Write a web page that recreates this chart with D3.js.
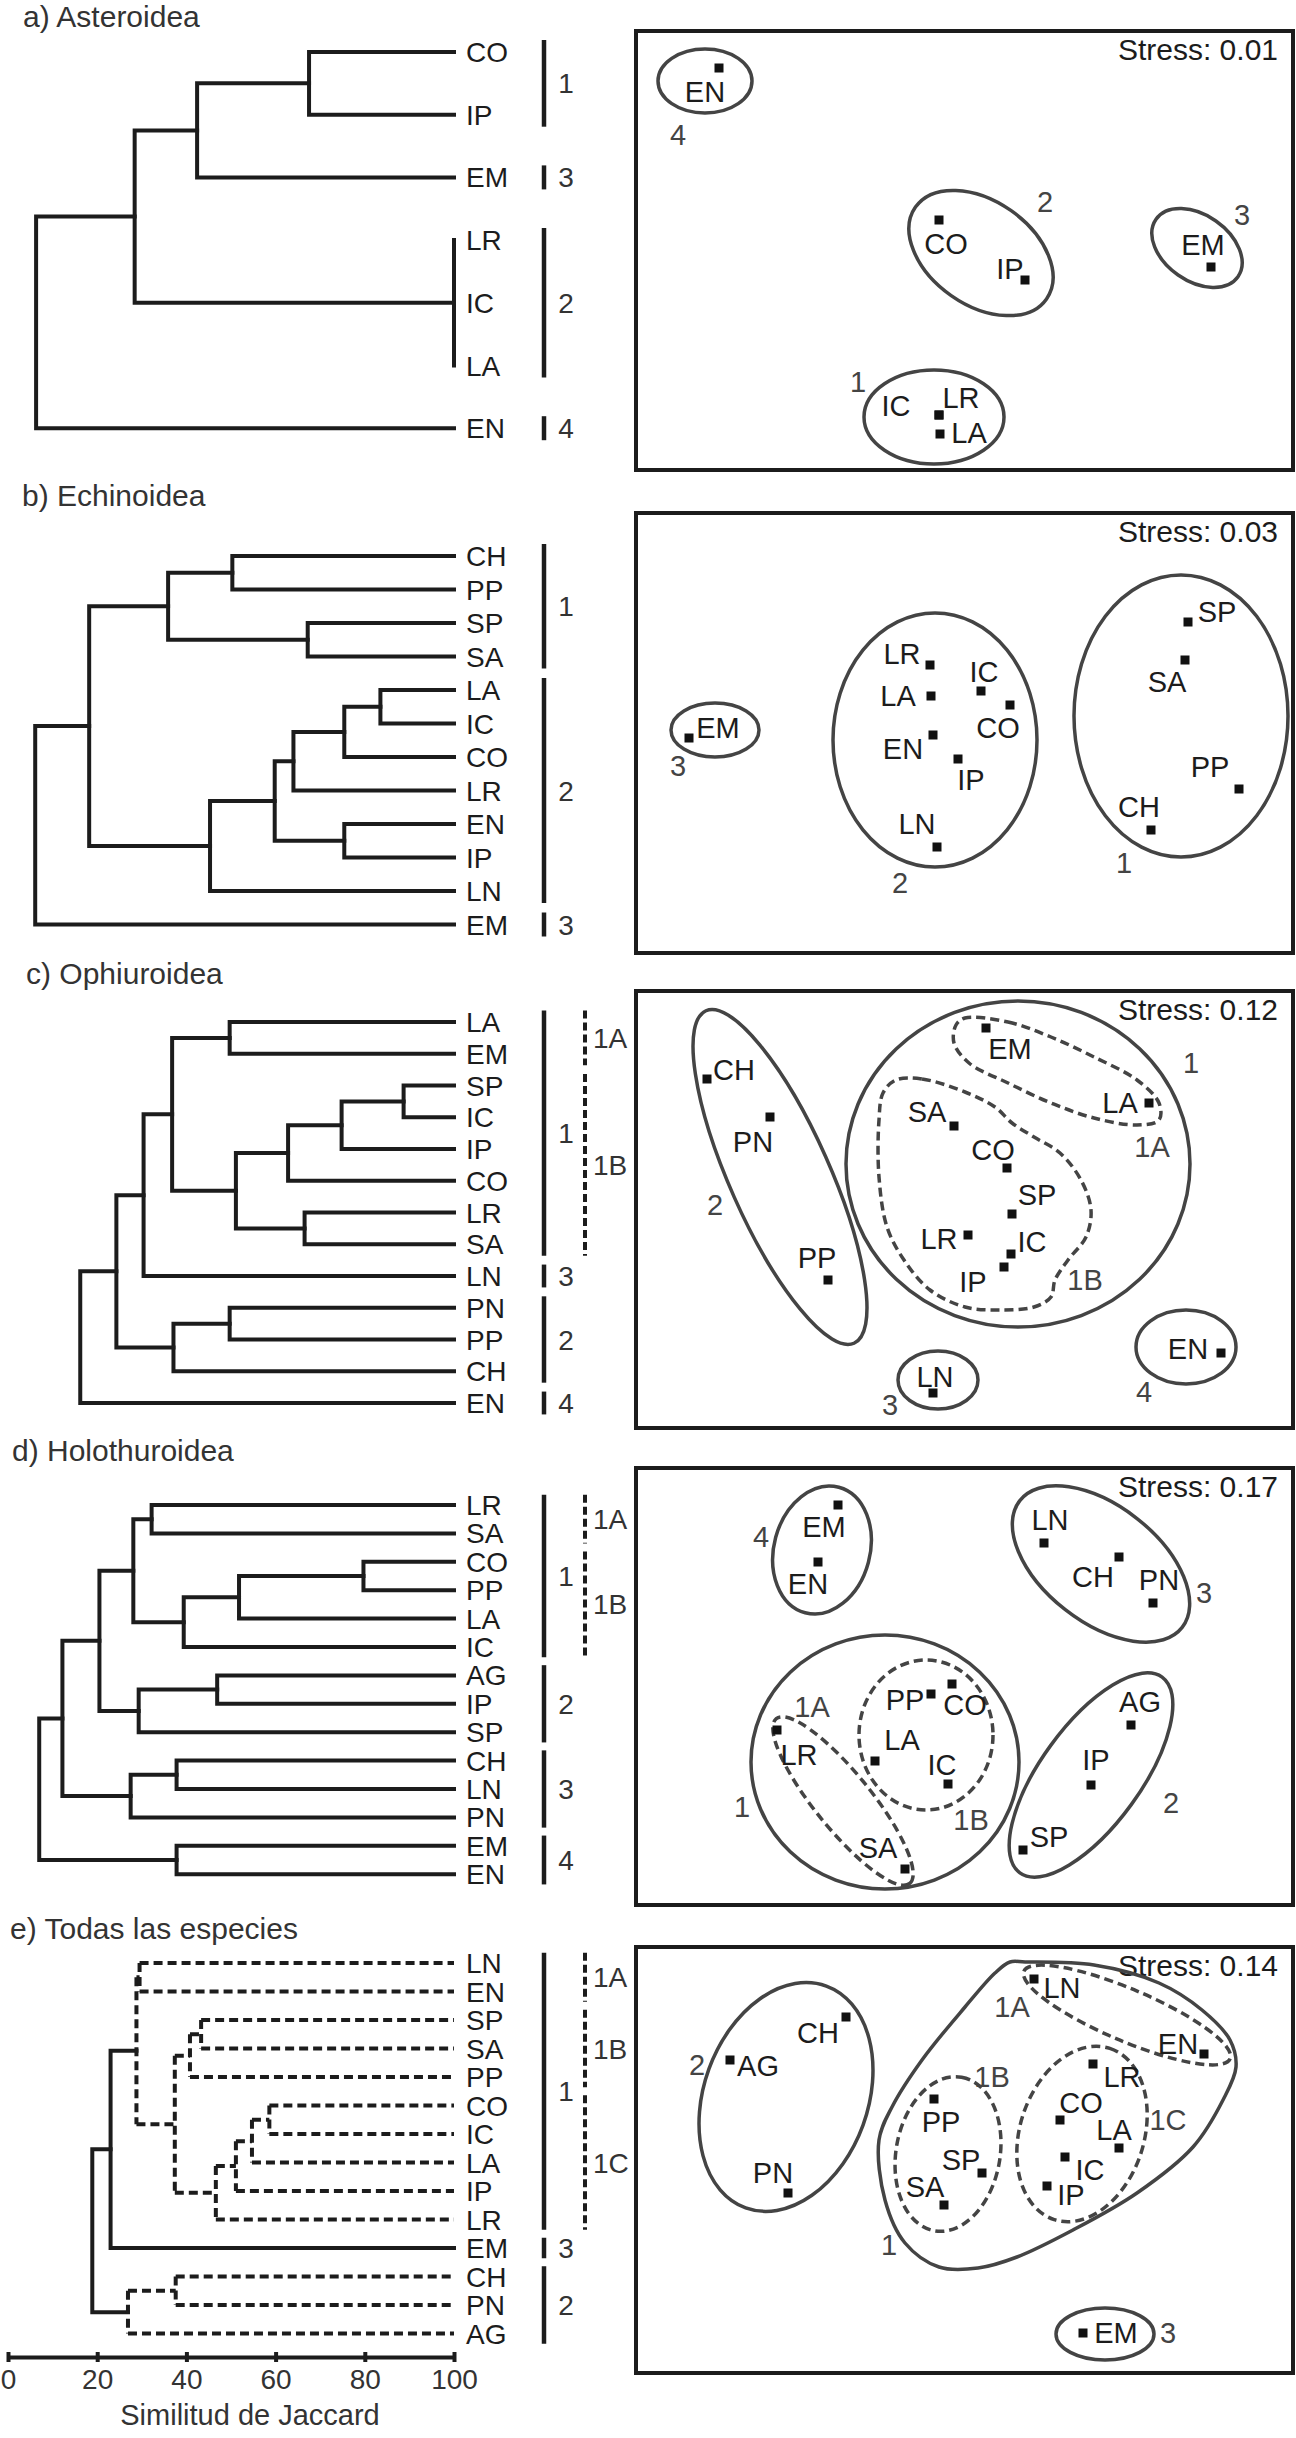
<!DOCTYPE html>
<html><head><meta charset="utf-8">
<script src="https://cdn.jsdelivr.net/npm/d3@7"></script>
<style>
body{margin:0;background:#fff}
svg{display:block}
text{font-family:"Liberation Sans",Arial,Helvetica,sans-serif}
</style>
</head><body>
<svg id="chart" width="1296" height="2438"></svg>
<script>
// ================= DATA =================
const panelTitles = ["a) Asteroidea","b) Echinoidea","c) Ophiuroidea","d) Holothuroidea","e) Todas las especies"];
const stressValues = ["0.01","0.03","0.12","0.17","0.14"];
const axisTicks = [0,20,40,60,80,100];
const axisTitle = "Similitud de Jaccard";

// Dendrograms (h = Jaccard similarity of the join, d = dashed branch)
const treeA = {h:6.3,c:[{h:28.4,c:[{h:42.4,c:[{h:67.5,c:["CO","IP"]},"EM"]},{h:100,c:["LR","IC","LA"]}]},"EN"]};
const treeB = {h:6.1,c:[{h:18.2,c:[{h:35.9,c:[{h:50.3,c:["CH","PP"]},{h:67.2,c:["SP","SA"]}]},
  {h:45.3,c:[{h:59.8,c:[{h:64,c:[{h:75.4,c:[{h:83.5,c:["LA","IC"]},"CO"]},"LR"]},{h:75.4,c:["EN","IP"]}]},"LN"]}]},"EM"]};
const treeC = {h:16.2,c:[{h:24.3,c:[{h:30.4,c:[{h:36.8,c:[{h:49.7,c:["LA","EM"]},
  {h:51.1,c:[{h:62.8,c:[{h:74.8,c:[{h:88.7,c:["SP","IC"]},"IP"]},"CO"]},{h:66.5,c:["LR","SA"]}]}]},"LN"]},
  {h:37.1,c:[{h:49.7,c:["PN","PP"]},"CH"]}]},"EN"]};
const treeD = {h:7.0,c:[{h:12.2,c:[{h:20.5,c:[{h:28.1,c:[{h:32.2,c:["LR","SA"]},
  {h:39.4,c:[{h:51.8,c:[{h:79.7,c:["CO","PP"]},"LA"]},"IC"]}]},{h:29.3,c:[{h:46.9,c:["AG","IP"]},"SP"]}]},
  {h:27.5,c:[{h:37.8,c:["CH","LN"]},"PN"]}]},{h:37.8,c:["EM","EN"]}]};
const treeE = {h:18.9,c:[{h:23.0,c:[{h:28.8,d:1,c:[{h:29.5,d:1,c:["LN","EN"]},
  {h:37.4,d:1,c:[{h:40.8,d:1,c:[{h:43.3,d:1,c:["SP","SA"]},"PP"]},
  {h:46.6,d:1,c:[{h:51.1,d:1,c:[{h:54.7,d:1,c:[{h:58.6,d:1,c:["CO","IC"]},"LA"]},"IP"]},"LR"]}]}]},"EM"]},
  {h:26.9,d:1,c:[{h:37.6,d:1,c:["CH","PN"]},"AG"]}]};

// Group brackets: [label, first leaf, last leaf]
const groupsA = [["1","CO","IP"],["3","EM","EM"],["2","LR","LA"],["4","EN","EN"]];
const groupsB = [["1","CH","SA"],["2","LA","LN"],["3","EM","EM"]];
const groupsC = [["1","LA","SA"],["3","LN","LN"],["2","PN","CH"],["4","EN","EN"]];
const groupsD = [["1","LR","IC"],["2","AG","SP"],["3","CH","PN"],["4","EM","EN"]];
const groupsE = [["1","LN","LR"],["3","EM","EM"],["2","CH","AG"]];
const subgroupsC = [["1A","LA","EM"],["1B","SP","SA"]];
const subgroupsD = [["1A","LR","SA"],["1B","CO","IC"]];
const subgroupsE = [["1A","LN","EN"],["1B","SP","PP"],["1C","CO","LR"]];

// MDS points: [code, dim1, dim2, label dim1, label dim2]
const mdsA = [["EN",-2.46,1.82,-2.60,1.58],["CO",-0.26,0.30,-0.19,0.06],["IP",0.60,-0.30,0.45,-0.19],
  ["EM",2.46,-0.17,2.38,0.05],["IC",-0.26,-1.65,-0.69,-1.56],["LR",-0.26,-1.65,-0.04,-1.48],["LA",-0.25,-1.84,0.04,-1.83]];
const mdsB = [["EM",-2.76,-0.05,-2.47,0.05],["LR",-0.35,0.68,-0.63,0.79],["LA",-0.34,0.37,-0.67,0.37],
  ["IC",0.16,0.42,0.19,0.61],["CO",0.45,0.28,0.33,0.05],["EN",-0.32,-0.02,-0.62,-0.16],["IP",-0.07,-0.26,0.06,-0.47],
  ["LN",-0.28,-1.14,-0.48,-0.91],["SP",2.23,1.11,2.52,1.21],["SA",2.20,0.73,2.02,0.51],["PP",2.74,-0.56,2.45,-0.34],
  ["CH",1.86,-0.97,1.74,-0.74]];
const mdsC = [["CH",-2.58,1.31,-2.31,1.40],["PN",-1.95,0.93,-2.12,0.68],["PP",-1.37,-0.70,-1.48,-0.48],
  ["EM",0.21,1.82,0.45,1.61],["LA",1.84,1.07,1.55,1.07],["SA",-0.11,0.84,-0.38,0.98],["CO",0.42,0.42,0.28,0.60],
  ["SP",0.47,-0.04,0.72,0.15],["LR",0.03,-0.25,-0.26,-0.29],["IC",0.46,-0.44,0.67,-0.32],["IP",0.39,-0.57,0.08,-0.72],
  ["LN",-0.32,-1.83,-0.30,-1.67],["EN",2.56,-1.43,2.23,-1.39]];
const mdsD = [["EM",-1.27,1.81,-1.41,1.59],["EN",-1.47,1.24,-1.57,1.02],["LN",0.79,1.43,0.85,1.66],
  ["CH",1.54,1.29,1.28,1.09],["PN",1.88,0.83,1.94,1.06],["LR",-1.88,-0.44,-1.66,-0.69],["SA",-0.60,-1.83,-0.87,-1.62],
  ["PP",-0.34,-0.08,-0.60,-0.14],["CO",-0.13,0.02,0.00,-0.19],["LA",-0.90,-0.75,-0.63,-0.54],["IC",-0.17,-0.98,-0.23,-0.79],
  ["AG",1.66,-0.39,1.75,-0.16],["IP",1.26,-0.99,1.31,-0.74],["SP",0.58,-1.64,0.84,-1.51]];
const mdsE = [["CH",-1.19,1.43,-1.47,1.27],["AG",-2.35,1.00,-2.07,0.94],["PN",-1.77,-0.33,-1.92,-0.13],
  ["LN",0.69,1.81,0.97,1.72],["EN",2.39,1.06,2.13,1.16],["PP",-0.31,0.61,-0.24,0.38],["SP",0.17,-0.13,-0.04,0.00],
  ["SA",-0.21,-0.45,-0.40,-0.27],["LR",1.28,0.96,1.57,0.83],["CO",0.95,0.40,1.16,0.57],["LA",1.54,0.12,1.49,0.30],
  ["IC",1.00,0.03,1.25,-0.10],["IP",0.82,-0.26,1.06,-0.35],["EM",1.18,-1.73,1.51,-1.73]];

// Cluster ellipses: [center d1, center d2, semi-axis 1, semi-axis 2, angle, dashed]
const ellA = [[-2.60,1.69,0.47,0.32,0,0],[0.16,-0.03,0.80,0.52,35,0],[2.32,0.02,0.50,0.33,35,0],[-0.31,-1.67,0.70,0.47,0,0]];
const ellB = [[-2.50,0.03,0.44,0.27,0,0],[-0.30,-0.07,1.02,1.27,0,0],[2.16,0.17,1.07,1.41,0,0]];
const ellC = [[-1.85,0.33,1.82,0.50,66,0],[0.53,0.46,1.72,1.63,0,0],[-0.27,-1.70,0.40,0.29,0,0],[2.21,-1.37,0.50,0.37,0,0]];
const ellD = [[-1.43,1.36,0.65,0.48,-75,0],[1.36,1.22,1.03,0.58,38,0],[-0.80,-0.76,1.34,1.27,0,0],
  [-1.22,-1.15,1.06,0.28,51,1],[-0.39,-0.49,0.67,0.75,0,1],[1.26,-0.89,1.21,0.50,-54,0]];
const ellE = [[-1.79,0.63,1.18,0.82,-70,0],[1.62,1.45,1.12,0.26,23,1],[-0.17,0.06,0.78,0.52,-80,1],
  [1.17,0.26,0.90,0.62,-72,1],[1.40,-1.74,0.49,0.26,0,0]];

// Irregular cluster outlines: {dashed, pts}
const hullsC = [
  {dashed:1, pts:[[0.00,1.92],[0.43,1.88],[0.86,1.73],[1.29,1.53],[1.72,1.30],[1.94,1.07],[1.94,0.90],[1.72,0.85],
    [1.29,0.92],[0.86,1.07],[0.43,1.27],[0.04,1.47],[-0.11,1.67],[-0.09,1.85]]},
  {dashed:1, pts:[[-0.69,1.30],[-0.43,1.31],[0.00,1.18],[0.30,1.03],[0.47,0.87],[0.69,0.73],[0.95,0.57],[1.16,0.30],
    [1.26,0.00],[1.21,-0.27],[1.03,-0.50],[0.90,-0.70],[0.86,-0.87],[0.69,-0.97],[0.34,-1.00],[0.00,-0.97],
    [-0.35,-0.80],[-0.61,-0.50],[-0.78,-0.17],[-0.86,0.33],[-0.86,0.90],[-0.82,1.17]]}];
const hullsE = [
  {dashed:0, pts:[[0.45,1.98],[0.60,1.98],[1.29,1.95],[1.94,1.77],[2.37,1.50],[2.65,1.20],[2.71,0.93],[2.58,0.60],
    [2.28,0.13],[1.72,-0.33],[1.08,-0.70],[0.52,-0.97],[0.13,-1.08],[-0.26,-1.07],[-0.60,-0.83],[-0.80,-0.40],
    [-0.86,0.20],[-0.73,0.53],[-0.43,1.00],[0.00,1.53],[0.30,1.87]]}];

// Group labels inside the MDS plots: [text, d1, d2]
const glabA = [["4",-2.87,1.15],["2",0.80,0.48],["3",2.77,0.35],["1",-1.07,-1.32]];
const glabB = [["3",-2.87,-0.33],["2",-0.65,-1.50],["1",1.59,-1.30]];
const glabC = [["2",-2.50,0.05],["1",2.26,1.47],["1A",1.87,0.63],["1B",1.20,-0.70],["3",-0.75,-1.95],["4",1.79,-1.82]];
const glabD = [["4",-2.04,1.49],["3",2.39,0.93],["1",-2.23,-1.21],["1A",-1.53,-0.21],["1B",0.06,-1.34],["2",2.06,-1.17]];
const glabE = [["2",-2.68,0.95],["1",-0.76,-0.85],["1A",0.47,1.53],["1B",0.27,0.83],["1C",2.03,0.40],["3",2.03,-1.73]];

// ================= LAYOUT =================
const layout = [
  {titleX:23, titleY:27,   leafTop:52,   step:62.7,  boxTop:31,   boxBot:470,  cy:250},
  {titleX:22, titleY:506,  leafTop:556,  step:33.5,  boxTop:513,  boxBot:953,  cy:733},
  {titleX:26, titleY:984,  leafTop:1022, step:31.75, boxTop:991,  boxBot:1428, cy:1210},
  {titleX:12, titleY:1461, leafTop:1505, step:28.4,  boxTop:1468, boxBot:1905, cy:1686},
  {titleX:10, titleY:1939, leafTop:1963, step:28.5,  boxTop:1947, boxBot:2373, cy:2160}
];
const trees = [treeA,treeB,treeC,treeD,treeE];
const groups = [groupsA,groupsB,groupsC,groupsD,groupsE];
const subgroups = [[],[],subgroupsC,subgroupsD,subgroupsE];
const mds = [mdsA,mdsB,mdsC,mdsD,mdsE];
const ells = [ellA,ellB,ellC,ellD,ellE];
const hulls = [[],[],hullsC,[],hullsE];
const glabs = [glabA,glabB,glabC,glabD,glabE];

const INK = "#1c1c1c", GREY = "#444";
const svg = d3.select("#chart");
const sim = d3.scaleLinear().domain([0,100]).range([8,454]);
const mx = d3.scaleLinear().domain([-3.3,3.3]).range([635,1295]);

layout.forEach((p,i)=>{
  const g = svg.append("g");
  // title
  g.append("text").attr("x",p.titleX).attr("y",p.titleY).attr("font-size",30).attr("fill","#333").text(panelTitles[i]);

  // ---- dendrogram ----
  const root = d3.hierarchy(trees[i], d => (typeof d === "string") ? null : d.c);
  const leaves = root.leaves();
  const ly = d3.scalePoint().domain(leaves.map(l=>l.data))
    .range([p.leafTop, p.leafTop + p.step*(leaves.length-1)]);
  root.eachAfter(n=>{
    if(!n.children){ n.py = ly(n.data); n.px = sim(100); }
    else { const ys = n.children.map(c=>c.py); n.py = (d3.min(ys)+d3.max(ys))/2; n.px = sim(n.data.h); }
  });
  const dg = g.append("g").attr("fill","none").attr("stroke",INK).attr("stroke-width",4);
  root.descendants().filter(n=>n.children).forEach(n=>{
    const dashed = !!n.data.d;
    const ys = n.children.map(c=>c.py);
    const path = d3.path();
    path.moveTo(n.px, d3.min(ys)); path.lineTo(n.px, d3.max(ys));
    n.children.forEach(c=>{ path.moveTo(n.px, c.py); path.lineTo(c.px, c.py); });
    dg.append("path").attr("d",path.toString())
      .attr("stroke-linecap", dashed ? "butt" : "square")
      .attr("stroke-dasharray", dashed ? "9,5" : null);
  });
  g.selectAll(".leaf").data(leaves).join("text")
    .attr("x",466).attr("y",d=>ly(d.data)).attr("dy","0.36em")
    .attr("font-size",28).attr("fill",INK).text(d=>d.data);

  // group brackets
  const pad = Math.min(12, p.step*0.36);
  groups[i].forEach(([lab,a,b])=>{
    const y1 = ly(a)-pad, y2 = ly(b)+pad;
    g.append("line").attr("x1",544).attr("x2",544).attr("y1",y1).attr("y2",y2)
      .attr("stroke",INK).attr("stroke-width",4.5);
    g.append("text").attr("x",566).attr("y",(y1+y2)/2).attr("dy","0.36em").attr("text-anchor","middle")
      .attr("font-size",28).attr("fill","#333").text(lab);
  });
  subgroups[i].forEach(([lab,a,b])=>{
    const y1 = ly(a)-pad, y2 = ly(b)+pad;
    g.append("line").attr("x1",585).attr("x2",585).attr("y1",y1).attr("y2",y2)
      .attr("stroke",INK).attr("stroke-width",4).attr("stroke-dasharray","8,4");
    g.append("text").attr("x",593).attr("y",(y1+y2)/2).attr("dy","0.36em")
      .attr("font-size",28).attr("fill","#333").text(lab);
  });

  // ---- MDS ----
  const my = d3.scaleLinear().domain([-2.2,2.2]).range([p.cy+220, p.cy-220]);
  g.append("rect").attr("x",636).attr("y",p.boxTop).attr("width",657).attr("height",p.boxBot-p.boxTop)
    .attr("fill","none").attr("stroke",INK).attr("stroke-width",4);
  g.append("text").attr("x",1278).attr("y",p.boxTop+29).attr("text-anchor","end")
    .attr("font-size",30).attr("fill",INK).text("Stress: "+stressValues[i]);

  ells[i].forEach(e=>{
    const cx = mx(e[0]), cy = my(e[1]);
    g.append("ellipse").attr("cx",cx).attr("cy",cy)
      .attr("rx",mx(e[2])-mx(0)).attr("ry",my(0)-my(e[3]))
      .attr("transform",`rotate(${e[4]},${cx},${cy})`)
      .attr("fill","none").attr("stroke",GREY).attr("stroke-width",3.5)
      .attr("stroke-dasharray", e[5] ? "9,5" : null);
  });
  const hullLine = d3.line().x(d=>mx(d[0])).y(d=>my(d[1])).curve(d3.curveCatmullRomClosed.alpha(0.5));
  hulls[i].forEach(h=>{
    g.append("path").attr("d",hullLine(h.pts)).attr("fill","none").attr("stroke",GREY)
      .attr("stroke-width",3.5).attr("stroke-dasharray", h.dashed ? "9,5" : null);
  });
  g.selectAll(".pt").data(mds[i]).join("rect")
    .attr("x",d=>mx(d[1])-4.5).attr("y",d=>my(d[2])-4.5).attr("width",9).attr("height",9).attr("fill","#111");
  g.selectAll(".pl").data(mds[i]).join("text")
    .attr("x",d=>mx(d[3])).attr("y",d=>my(d[4])).attr("dy","0.36em").attr("text-anchor","middle")
    .attr("font-size",29).attr("fill",INK).text(d=>d[0]);
  g.selectAll(".gl").data(glabs[i]).join("text")
    .attr("x",d=>mx(d[1])).attr("y",d=>my(d[2])).attr("dy","0.36em").attr("text-anchor","middle")
    .attr("font-size",29).attr("fill",GREY).text(d=>d[0]);
});

// ---- similarity axis under panel e ----
const axY = 2357;
const ax = svg.append("g").attr("transform",`translate(0,${axY})`)
  .call(d3.axisBottom(sim).tickValues(axisTicks).tickSizeInner(5).tickSizeOuter(0).tickPadding(10));
ax.select(".domain").attr("stroke",INK).attr("stroke-width",4);
ax.selectAll(".tick line").attr("y1",-5).attr("y2",5).attr("stroke",INK).attr("stroke-width",4);
ax.selectAll(".tick text").attr("font-size",28).attr("fill","#333").attr("font-family",null)
  .attr("y",32).attr("dy",0);
svg.append("text").attr("x",250).attr("y",2425).attr("text-anchor","middle").attr("font-size",29)
  .attr("fill","#333").text(axisTitle);
</script>
</body></html>
